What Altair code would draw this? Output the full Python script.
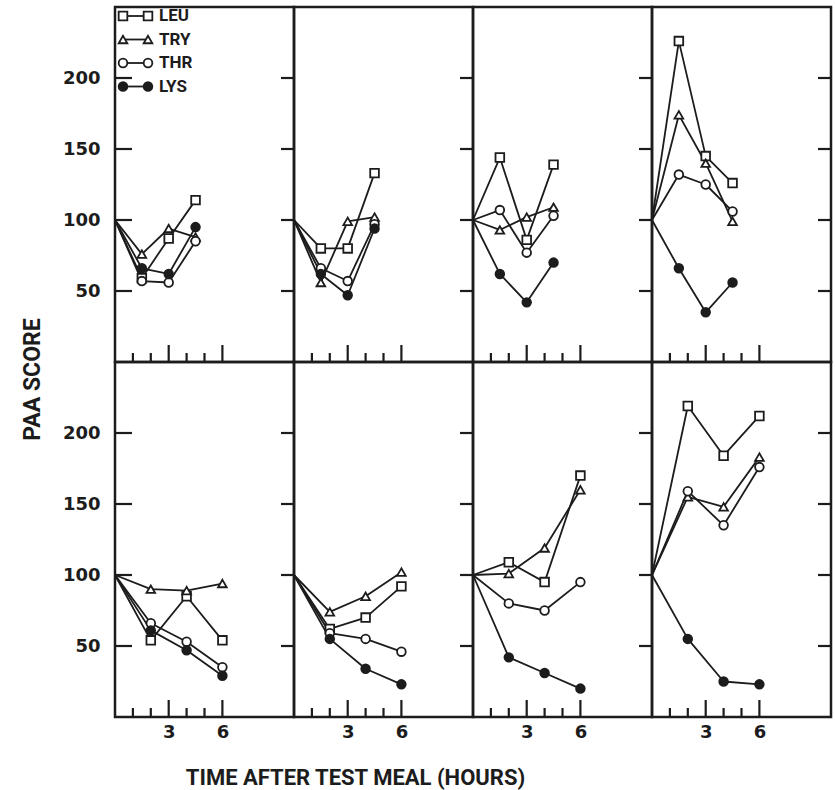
import altair as alt
import pandas as pd

SERIES = ["LEU", "TRY", "THR", "LYS"]
TIMES_TOP = [0, 1.5, 3, 4.5]
TIMES_BOTTOM = [0, 2, 4, 6]

# top row panels, left to right (values at TIMES_TOP)
TOP_LEU = [[100, 59, 87, 114], [100, 80, 80, 133], [100, 144, 86, 139], [100, 226, 145, 126]]
TOP_TRY = [[100, 76, 94, 88], [100, 56, 99, 102], [100, 93, 102, 109], [100, 174, 140, 99]]
TOP_THR = [[100, 57, 56, 85], [100, 66, 57, 97], [100, 107, 77, 103], [100, 132, 125, 106]]
TOP_LYS = [[100, 66, 62, 95], [100, 62, 47, 94], [100, 62, 42, 70], [100, 66, 35, 56]]

# bottom row panels, left to right (values at TIMES_BOTTOM)
BOT_LEU = [[100, 54, 85, 54], [100, 62, 70, 92], [100, 109, 95, 170], [100, 219, 184, 212]]
BOT_TRY = [[100, 90, 89, 94], [100, 74, 85, 102], [100, 101, 119, 160], [100, 155, 148, 183]]
BOT_THR = [[100, 66, 53, 35], [100, 59, 55, 46], [100, 80, 75, 95], [100, 159, 135, 176]]
BOT_LYS = [[100, 61, 47, 29], [100, 55, 34, 23], [100, 42, 31, 20], [100, 55, 25, 23]]

Y_TICKS = [50, 100, 150, 200]
X_MINOR = [1, 2, 4, 5]
X_MAJOR = [3, 6]
X_LABELS = [3, 6]

X_TITLE = "TIME AFTER TEST MEAL (HOURS)"
Y_TITLE = "PAA  SCORE"

rows = []
for r, (times, groups) in enumerate([
    (TIMES_TOP, [TOP_LEU, TOP_TRY, TOP_THR, TOP_LYS]),
    (TIMES_BOTTOM, [BOT_LEU, BOT_TRY, BOT_THR, BOT_LYS]),
]):
    for c in range(4):
        for s, grp in zip(SERIES, groups):
            for t, v in zip(times, grp[c]):
                rows.append(dict(row=r, col=c, series=s, time=t, value=v))
df = pd.DataFrame(rows)

W, H = 179, 355
INK = "#1c1c1c"
FONT = "DejaVu Sans"
MSIZE = 75
xs = alt.Scale(domain=[0, 10], nice=False, zero=False)
ys = alt.Scale(domain=[0, 250], nice=False, zero=False)
shape_scale = alt.Scale(domain=SERIES, range=["square", "triangle-up", "circle", "circle"])
fill_scale = alt.Scale(domain=SERIES, range=["white", "white", "white", INK])
sw_scale = alt.Scale(domain=SERIES, range=[1.8, 1.8, 1.8, 3.6])


def panel(r, c):
    d = df[(df.row == r) & (df.col == c)]
    if r == 1:
        xaxis = alt.Axis(values=X_LABELS, ticks=False, domain=False, grid=False,
                         labelFont=FONT, labelFontSize=18, labelFontWeight="bold",
                         labelColor=INK, labelPadding=6,
                         title=X_TITLE if c == 0 else None,
                         titleFont="Roboto", titleFontSize=22, titleFontWeight="bold",
                         titleColor=INK, titleX=240, titleY=60,
                         titleAlign="center", titleBaseline="middle")
    else:
        xaxis = None
    if c == 0:
        yaxis = alt.Axis(values=Y_TICKS, ticks=False, domain=False, grid=False,
                         labelFont=FONT, labelFontSize=18, labelFontWeight="bold",
                         labelColor=INK, labelPadding=15,
                         title=Y_TITLE if r == 1 else None,
                         titleFont="Roboto", titleFontSize=23, titleFontWeight="bold",
                         titleColor=INK, titleX=-83, titleY=17, titleAngle=270,
                         titleAlign="center", titleBaseline="middle")
    else:
        yaxis = None

    X = lambda f: alt.X(f, scale=xs, axis=xaxis)
    Y = lambda f: alt.Y(f, scale=ys, axis=yaxis)

    lines = alt.Chart(d).mark_line(color=INK, strokeJoin="round").encode(
        x=X("time:Q"), y=Y("value:Q"), detail="series:N",
        strokeWidth=alt.StrokeWidth("series:N", scale=sw_scale, legend=None),
    )
    pts = alt.Chart(d[d.time > 0]).mark_point(filled=True, stroke=INK, strokeWidth=1.8, size=MSIZE, opacity=1).encode(
        x=X("time:Q"), y=Y("value:Q"),
        shape=alt.Shape("series:N", scale=shape_scale, legend=None),
        fill=alt.Fill("series:N", scale=fill_scale, legend=None),
    )
    ytk = pd.DataFrame({"value": Y_TICKS})
    layers = [lines, pts]
    if c == 0:
        layers.append(alt.Chart(ytk).mark_rule(color=INK, strokeWidth=2.2).encode(
            y=Y("value:Q"), x=alt.value(0), x2=alt.value(17)))
    layers.append(alt.Chart(ytk).mark_rule(color=INK, strokeWidth=2.2).encode(
        y=Y("value:Q"), x=alt.value(W - 13), x2=alt.value(W)))
    layers.append(alt.Chart(pd.DataFrame({"time": X_MINOR})).mark_rule(color=INK, strokeWidth=2.2).encode(
        x=X("time:Q"), y=alt.value(H - 9), y2=alt.value(H)))
    layers.append(alt.Chart(pd.DataFrame({"time": X_MAJOR})).mark_rule(color=INK, strokeWidth=2.2).encode(
        x=X("time:Q"), y=alt.value(H - 17), y2=alt.value(H)))

    if r == 0 and c == 0:
        leg = pd.DataFrame({"series": SERIES, "slot": list(range(len(SERIES)))})
        base = alt.Chart(leg).transform_calculate(
            ly="250 * (1 - (9 + 23.5 * datum.slot) / 355)")
        layers.append(base.mark_rule(color=INK).encode(
            x=alt.value(8), x2=alt.value(33), y=Y("ly:Q"),
            strokeWidth=alt.StrokeWidth("series:N", scale=sw_scale, legend=None)))
        for px in (8, 33):
            layers.append(base.mark_point(filled=True, stroke=INK, strokeWidth=1.8, size=MSIZE, opacity=1).encode(
                x=alt.value(px), y=Y("ly:Q"),
                shape=alt.Shape("series:N", scale=shape_scale, legend=None),
                fill=alt.Fill("series:N", scale=fill_scale, legend=None)))
        layers.append(base.mark_text(align="left", baseline="middle", font="Roboto",
                                     fontSize=17, fontWeight="bold", color=INK).encode(
            x=alt.value(44), y=Y("ly:Q"), text="series:N"))

    return alt.layer(*layers).properties(width=W, height=H)


panels = [panel(r, c) for r in range(2) for c in range(4)]
chart = alt.concat(*panels, columns=4, spacing=0, bounds="flush").properties(
    padding={"left": 19, "top": 5, "right": 0, "bottom": 5},
    background="white",
).configure_view(stroke=INK, strokeWidth=2.5)

chart.save("out.html", embed_options={"renderer": "svg", "actions": False})
